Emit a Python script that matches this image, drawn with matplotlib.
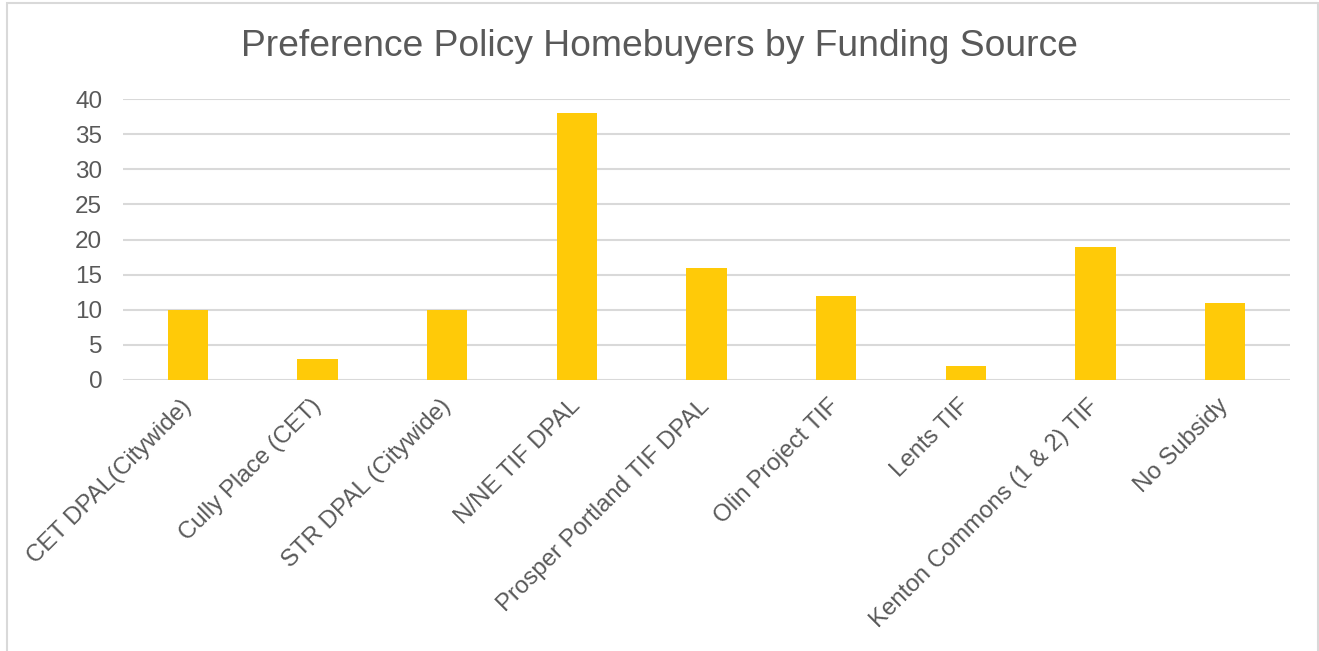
import matplotlib
matplotlib.use("Agg")
import matplotlib.pyplot as plt
from matplotlib.patches import Rectangle

categories = ["CET DPAL(Citywide)", "Cully Place (CET)", "STR DPAL (Citywide)",
              "N/NE TIF DPAL", "Prosper Portland TIF DPAL", "Olin Project TIF",
              "Lents TIF", "Kenton Commons (1 & 2) TIF", "No Subsidy"]
values = [10, 3, 10, 38, 16, 12, 2, 19, 11]
yticks = [0, 5, 10, 15, 20, 25, 30, 35, 40]

plt.rcParams['font.family'] = ['Liberation Sans', 'DejaVu Sans']
W, H = 1319, 651
fig = plt.figure(figsize=(W/100, H/100), dpi=100)
ax = fig.add_axes([123/W, 1-380/H, (1290-123)/W, (380-99)/H])

x = range(len(categories))
ax.bar(x, values, width=0.31, color="#FFCA08", zorder=3)
ax.set_xlim(-0.5, len(categories)-0.5)
ax.set_ylim(0, 40)
ax.set_yticks(yticks)
ax.set_yticklabels([str(v) for v in yticks], fontsize=17.5, color="#595959")
ax.set_xticks(list(x))
ax.set_xticklabels(categories, rotation=45, ha='right', va='center',
                   rotation_mode='anchor', fontsize=17.3, color="#595959")
ax.tick_params(axis='both', length=0)
ax.tick_params(axis='y', pad=15)
ax.tick_params(axis='x', pad=16.5)
ax.grid(axis='y', color="#D9D9D9", linewidth=1.5, zorder=0)
for s in ax.spines.values():
    s.set_visible(False)

fig.text(0.5, 1-46/H, "Preference Policy Homebuyers by Funding Source",
         ha='center', va='center', fontsize=26.8, color="#595959")

fig.patches.append(Rectangle((7/W, -0.05), (1318-7)/W, 1.05-3/H,
                             transform=fig.transFigure, fill=False,
                             edgecolor="#D9D9D9", linewidth=1.5))
fig.savefig("out.png", dpi=100)
